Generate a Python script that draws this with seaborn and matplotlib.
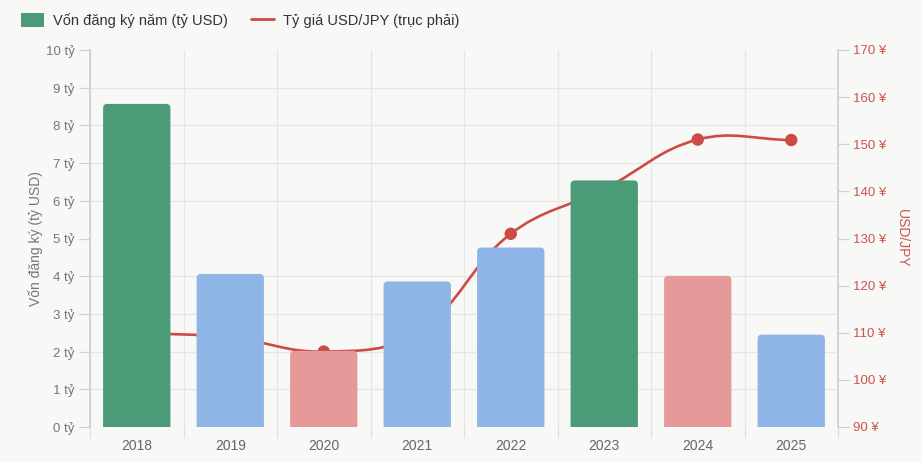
import numpy as np
import matplotlib
matplotlib.use("Agg")
import matplotlib.pyplot as plt
import seaborn as sns
from matplotlib.patches import FancyBboxPatch, Patch
from matplotlib.lines import Line2D
from matplotlib.path import Path
from matplotlib.patches import PathPatch

# ---- data ----
years = ["2018", "2019", "2020", "2021", "2022", "2023", "2024", "2025"]
capital = [8.57, 4.06, 2.02, 3.86, 4.76, 6.54, 4.01, 2.45]   # tỷ USD
bar_kind = ["high", "mid", "low", "mid", "mid", "high", "low", "mid"]
usdjpy = [110.0, 109.0, 106.0, 110.0, 131.0, 140.5, 151.0, 150.9]
left_ticks = list(range(0, 11))
right_ticks = list(range(90, 171, 10))

kind_colors = {"high": "#4b9b78", "mid": "#8fb5e6", "low": "#e59a99"}
RED = "#cd4b45"
BG = "#f8f8f6"

sns.set_theme(style="white")
plt.rcParams["font.family"] = ["Liberation Sans", "DejaVu Sans"]

fig = plt.figure(figsize=(9.22, 4.62), dpi=100, facecolor=BG)
ax2 = fig.add_axes([90/922, 35/462, 748/922, 377/462])
ax = ax2.twinx()
# make bars axis draw above line axis
ax.set_zorder(ax2.get_zorder() + 1)
ax.patch.set_visible(False)
ax2.set_facecolor(BG)

# ---- bars (left scale) ----
palette = [kind_colors[k] for k in bar_kind]
sns.barplot(x=years, y=capital, hue=years, palette=palette, ax=ax,
            width=0.72, legend=False, saturation=1)
ax.set_ylim(0, 10)
ax.set_xlim(-0.5, len(years) - 0.5)

# round the top corners
for p in list(ax.patches):
    x0, w, h = p.get_x(), p.get_width(), p.get_height()
    fc = p.get_facecolor()
    p.remove()
    rx = 0.045
    asp = (10 / 377) / (len(years) / 748)
    fb = FancyBboxPatch((x0, -0.3), w, h + 0.3,
                        boxstyle=f"round,pad=0,rounding_size={rx}",
                        mutation_aspect=asp, facecolor=fc, edgecolor="none",
                        zorder=3)
    ax.add_patch(fb)

# ---- line (right scale) ----
ax2.set_ylim(90, 170)
ax2.set_xlim(-0.5, len(years) - 0.5)
fig.canvas.draw()
pts = ax2.transData.transform(np.column_stack([np.arange(len(years)), usdjpy]))
t = 0.4
cps = []
n = len(pts)
for i in range(n):
    p0 = pts[i - 1] if i > 0 else pts[i]
    p1 = pts[i]
    p2 = pts[i + 1] if i < n - 1 else pts[i]
    d01 = np.hypot(*(p1 - p0))
    d12 = np.hypot(*(p2 - p1))
    s01 = d01 / (d01 + d12)
    s12 = d12 / (d01 + d12)
    cp_prev = p1 - t * s01 * (p2 - p0)
    cp_next = p1 + t * s12 * (p2 - p0)
    cps.append((cp_prev, cp_next))
verts = [pts[0]]
codes = [Path.MOVETO]
for i in range(n - 1):
    verts += [cps[i][1], cps[i + 1][0], pts[i + 1]]
    codes += [Path.CURVE4] * 3
inv = ax2.transData.inverted()
verts_d = inv.transform(np.array(verts))
path = Path(verts_d, codes)
ax2.add_patch(PathPatch(path, facecolor="none", edgecolor=RED, lw=1.9,
                        zorder=3, capstyle="round"))
sns.scatterplot(x=np.arange(len(years)), y=usdjpy, ax=ax2, color=RED,
                s=80, edgecolor="none", zorder=4, legend=False)

# ---- grids (drawn on the lower axis) ----
ax2.set_yticks(right_ticks)
ax2.set_yticks([90 + 8 * k for k in range(11)], minor=True)
ax2.set_xticks(np.arange(len(years)))
ax2.set_xticklabels(years)
ax2.set_xticks(np.arange(-0.5, len(years)), minor=True)
ax2.grid(False)
ax2.grid(True, which="minor", color="#e6e6e4", lw=0.9, zorder=0)
ax2.set_axisbelow(True)

# left axis (bars axis is on the right of twinx, so swap)
ax.yaxis.tick_left()
ax.yaxis.set_label_position("left")
ax2.yaxis.tick_right()
ax2.yaxis.set_label_position("right")

ax.set_yticks(left_ticks)
ax.set_yticklabels([f"{v} tỷ" for v in left_ticks])
ax.tick_params(axis="y", which="major", length=8, width=0.9, color="#d0d0d0",
               labelsize=9.5, labelcolor="#777777", pad=3, left=True, right=False)
ax.set_ylabel("Vốn đăng ký (tỷ USD)", color="#777777", fontsize=10, labelpad=2)

ax2.set_yticklabels([f"{v} ¥" for v in right_ticks])
ax2.tick_params(axis="y", which="major", length=8, width=0.9, color="#d0d0d0",
                labelsize=9.5, labelcolor="#c9554f", pad=3, right=True, left=False)
ax2.tick_params(axis="y", which="minor", length=0)
ax2.set_ylabel("USD/JPY", color="#c9554f", fontsize=10, rotation=270, labelpad=16)

# x axis
ax2.tick_params(axis="x", which="major", length=0, labelsize=10,
                labelcolor="#666666", pad=9, labelbottom=True, bottom=True)
ax2.tick_params(axis="x", which="minor", length=8, width=0.9, color="#e0e0e0",
                bottom=True)
ax.set_xlabel("")
ax2.set_xlabel("")

for a in (ax, ax2):
    for s in a.spines.values():
        s.set_visible(False)
ax.spines["left"].set_visible(True)
ax.spines["left"].set_color("#d0d0d0")
ax2.spines["right"].set_visible(True)
ax2.spines["right"].set_color("#d0d0d0")

# ---- legend ----
handles = [Patch(facecolor=kind_colors["high"], edgecolor="none"),
           Line2D([0], [0], color=RED, lw=2)]
labels = ["Vốn đăng ký năm (tỷ USD)", "Tỷ giá USD/JPY (trục phải)"]
leg = fig.legend(handles, labels, loc="upper left", bbox_to_anchor=(0.008, 1.0),
                 ncol=2, frameon=False, fontsize=10.5, handlelength=1.6,
                 handleheight=1.1, columnspacing=1.6, handletextpad=0.6,
                 labelcolor="#333333")

fig.savefig("out.png", dpi=100, facecolor=BG)
